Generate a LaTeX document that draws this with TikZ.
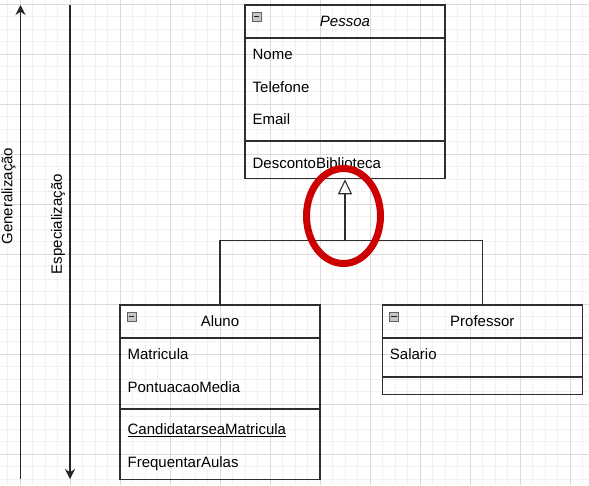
\documentclass[tikz,border=0pt]{standalone}
\usepackage{fontspec}
\setmainfont{Liberation Sans}
\usetikzlibrary{arrows.meta,positioning,shapes.geometric,calc}
\definecolor{ringred}{HTML}{CC0000}
\definecolor{gridmajor}{HTML}{DADADA}
\definecolor{gridminor}{HTML}{F1F1F1}
\definecolor{edgegray}{HTML}{2E2E2E}

\begin{document}
\begin{tikzpicture}[
        x=1pt,y=-1pt,
        font=\fontsize{15}{18}\selectfont,
        head/.style={draw=edgegray,line width=1.1pt,minimum width=200pt,minimum height=32.5pt,inner sep=0pt},
        part/.style={draw=edgegray,line width=1.1pt,minimum width=200pt,inner sep=0pt},
        row/.style={anchor=west,inner sep=0pt},
        toggle/.style={draw=gray!75!black,fill=gray!45,line width=0.6pt,minimum size=9pt,inner sep=0pt,
          path picture={\draw[line width=1.4pt,gray!25!black] ([xshift=1.6pt]path picture bounding box.west) -- ([xshift=-1.6pt]path picture bounding box.east);}},
        edge/.style={draw=edgegray,line width=1.1pt},
        axis/.style={draw=black!85,line width=1.1pt,-{Stealth[length=10pt,width=10pt]}},
        ring/.style={ellipse,draw=ringred,line width=7pt,minimum width=74pt,minimum height=95pt,inner sep=0pt}
      ]
      \useasboundingbox (0,0) rectangle (589,485);

      % background grid
      \foreach \gx in {7.5,20,...,583} \draw[gridminor,line width=0.8pt] (\gx,0) -- (\gx,485);
      \foreach \gy in {4,16.5,...,480} \draw[gridminor,line width=0.8pt] (0,\gy) -- (589,\gy);
      \foreach \gx in {20,70,...,570} \draw[gridmajor,line width=0.8pt] (\gx,0) -- (\gx,485);
      \foreach \gy in {4,54,...,454} \draw[gridmajor,line width=0.8pt] (0,\gy) -- (589,\gy);

      % Pessoa
      \node[head] (pessoa) at (345,21.25) {\textit{Pessoa}};
      \node[part,minimum height=102pt,below=0pt of pessoa] (pessoaAttr) {};
      \node[part,minimum height=37pt,below=0pt of pessoaAttr] (pessoaOps) {};
      \node[toggle] (pessoaTog) at ($(pessoa.north west)+(12,12)$) {};
      \node[row] (nome) at ($(pessoaAttr.north west)+(8,16.25)$) {Nome};
      \node[row] (telefone) at ($(pessoaAttr.north west)+(8,48.75)$) {Telefone};
      \node[row] (email) at ($(pessoaAttr.north west)+(8,81.25)$) {Email};
      \node[row] (desconto) at ($(pessoaOps.north west)+(8,21.5)$) {DescontoBiblioteca};

      % Aluno
      \node[head] (aluno) at (220,321.25) {Aluno};
      \node[part,minimum height=70pt,below=0pt of aluno] (alunoAttr) {};
      \node[part,minimum height=70pt,below=0pt of alunoAttr] (alunoOps) {};
      \node[toggle] (alunoTog) at ($(aluno.north west)+(12,12)$) {};
      \node[row] (matricula) at ($(alunoAttr.north west)+(8,16.25)$) {Matricula};
      \node[row] (pontuacao) at ($(alunoAttr.north west)+(8,48.75)$) {PontuacaoMedia};
      \node[row] (candidatar) at ($(alunoOps.north west)+(8,21.25)$) {\underline{CandidatarseaMatricula}};
      \node[row] (frequentar) at ($(alunoOps.north west)+(8,54)$) {FrequentarAulas};

      % Professor
      \node[head] (professor) at (482.3,321.25) {Professor};
      \node[part,minimum height=37.5pt,below=0pt of professor] (professorAttr) {};
      \node[part,minimum height=17pt,below=0pt of professorAttr] (professorOps) {};
      \node[toggle] (professorTog) at ($(professor.north west)+(12,12)$) {};
      \node[row] (salario) at ($(professorAttr.north west)+(8,16.25)$) {Salario};

      % generalization tree
      \coordinate (joint) at (345,240.7);
      \draw[edge] (aluno.north) |- (joint) -| (professor.north);
      \draw[edge,-{Triangle[open,length=15pt,width=14pt]}] (joint) -- (pessoaOps.south);

      \node[ring] (focus) at (343.5,216) {};

      % direction arrows
      \coordinate (genLow) at (20.5,479);
      \coordinate (genHigh) at (20.5,5);
      \coordinate (specHigh) at (70,5);
      \coordinate (specLow) at (70,479);
      \draw[axis] (genLow) -- (genHigh);
      \draw[axis] (specHigh) -- (specLow);
      \node[rotate=90] (genLabel) at (8.5,196) {Generalização};
      \node[rotate=90] (specLabel) at (58,224) {Especialização};
    \end{tikzpicture}
\end{document}
